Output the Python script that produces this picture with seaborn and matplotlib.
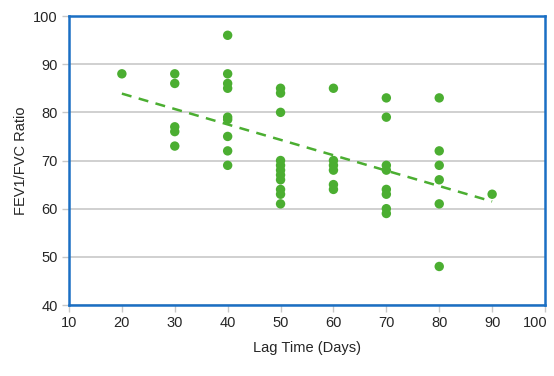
import numpy as np
import pandas as pd
import seaborn as sns
import matplotlib.pyplot as plt
from matplotlib.transforms import ScaledTranslation

lag_days = [20,
            30, 30, 30, 30, 30,
            40, 40, 40, 40, 40, 40, 40, 40, 40,
            50, 50, 50, 50, 50, 50, 50, 50, 50, 50, 50,
            60, 60, 60, 60, 60, 60,
            70, 70, 70, 70, 70, 70, 70, 70,
            80, 80, 80, 80, 80, 80,
            90]
fev_ratio = [88,
             88, 86, 77, 76, 73,
             96, 88, 86, 85, 79, 78.5, 75, 72, 69,
             85, 84, 80, 70, 69, 68, 67, 66, 64, 63, 61,
             85, 70, 69, 68, 65, 64,
             83, 79, 69, 68, 64, 63, 60, 59,
             83, 72, 69, 66, 61, 48,
             63]

df = pd.DataFrame({'lag': lag_days, 'ratio': fev_ratio})

sns.set_style('white')
plt.rcParams['font.family'] = ['Liberation Sans', 'DejaVu Sans']

fig = plt.figure(figsize=(5.54, 3.76), dpi=100)
ax = fig.add_axes([0.1245, 0.1888, 0.8593, 0.7686])

green = '#4bae31'
sns.regplot(data=df, x='lag', y='ratio', ax=ax, ci=None,
            scatter_kws={'s': 46, 'color': green, 'edgecolor': 'none', 'alpha': 1, 'zorder': 3},
            line_kws={'color': green, 'linestyle': (0, (4, 3)), 'linewidth': 1.8, 'zorder': 2})

ax.set_xlim(10, 100)
ax.set_ylim(40, 100)
ax.set_xticks(range(10, 101, 10))
ax.set_yticks(range(40, 101, 10))
ax.yaxis.grid(True, color='#c8c8c8', linewidth=1.2)
ax.set_axisbelow(True)
for s in ax.spines.values():
    s.set_color('#1a6fc4')
    s.set_linewidth(1.8)
ax.tick_params(axis='both', length=5, width=1, color='#c8c8c8', labelsize=10.5, pad=3, bottom=True, left=True)
# last x label sits a bit left so it stays inside the picture
last = ax.get_xticklabels()[-1]
last.set_transform(last.get_transform() + ScaledTranslation(-10 / 100, 0, fig.dpi_scale_trans))
ax.set_xlabel('Lag Time (Days)', fontsize=10.5, labelpad=8)
ax.set_ylabel('FEV1/FVC Ratio', fontsize=10.5, labelpad=4)

fig.savefig('out.png', dpi=100)
